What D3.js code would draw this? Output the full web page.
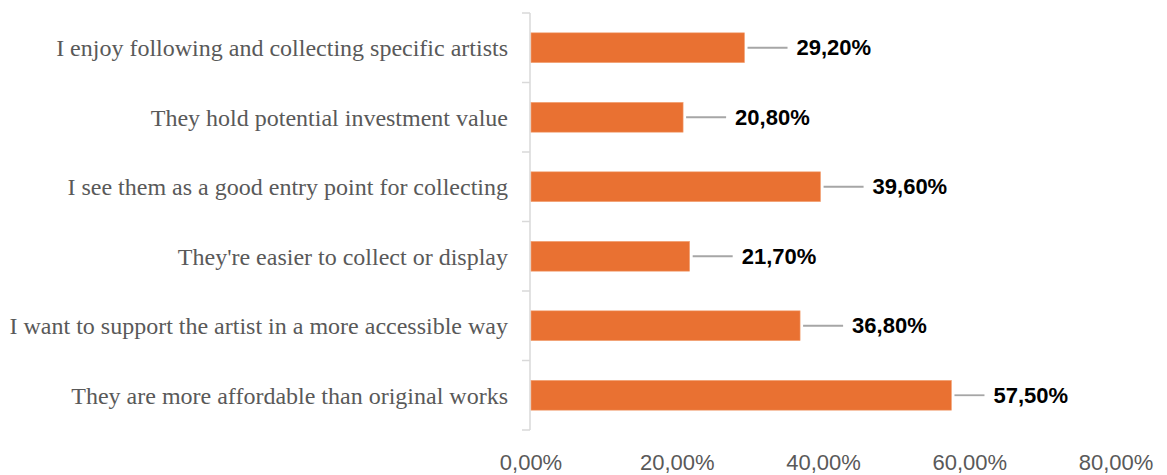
<!DOCTYPE html>
<html>
<head>
<meta charset="utf-8">
<script src="https://cdn.jsdelivr.net/npm/d3@7"></script>
<style>
  html, body { margin: 0; padding: 0; background: #ffffff; }
  svg { display: block; }
</style>
</head>
<body>
<svg id="chart" width="1167" height="475"></svg>
<script>
// Reasons for buying prints, share of respondents (%)
const categories = [
  "I enjoy following and collecting specific artists",
  "They hold potential investment value",
  "I see them as a good entry point for collecting",
  "They're easier to collect or display",
  "I want to support the artist in a more accessible way",
  "They are more affordable than original works"
];
const values = [29.2, 20.8, 39.6, 21.7, 36.8, 57.5];
const tickValues = [0, 20, 40, 60, 80];

const fmt = v => v.toFixed(2).replace(".", ",") + "%";

const svg = d3.select("#chart");
const W = 1167;
const plotLeft = 531, plotRight = 1116, plotTop = 13, plotBottom = 430;

const x = d3.scaleLinear().domain([0, 80]).range([plotLeft, plotRight]);
const y = d3.scaleBand().domain(categories).range([plotTop, plotBottom]).paddingInner(0.57).paddingOuter(0.285);
const band = d3.scaleBand().domain(categories).range([plotTop, plotBottom]);

// Category axis line with boundary ticks
const axisColor = "#d9d9d9";
svg.append("line")
  .attr("x1", plotLeft - 1).attr("x2", plotLeft - 1)
  .attr("y1", plotTop).attr("y2", plotBottom)
  .attr("stroke", axisColor).attr("stroke-width", 1.5);
const bounds = categories.map(c => band(c)).concat([plotBottom]);
svg.selectAll("line.cat-tick").data(bounds).enter().append("line")
  .attr("class", "cat-tick")
  .attr("x1", plotLeft - 9).attr("x2", plotLeft - 1)
  .attr("y1", d => d).attr("y2", d => d)
  .attr("stroke", axisColor).attr("stroke-width", 1.5);

// Category labels
svg.selectAll("text.cat").data(categories).enter().append("text")
  .attr("class", "cat")
  .attr("x", 508)
  .attr("y", d => band(d) + band.bandwidth() / 2)
  .attr("dy", "0.35em")
  .attr("text-anchor", "end")
  .attr("font-family", "'Liberation Serif', 'Times New Roman', serif")
  .attr("font-size", 24)
  .attr("fill", "#595959")
  .text(d => d);

// Bars
svg.selectAll("rect.bar").data(categories).enter().append("rect")
  .attr("class", "bar")
  .attr("x", x(0))
  .attr("y", d => y(d))
  .attr("width", (d, i) => x(values[i]) - x(0))
  .attr("height", y.bandwidth())
  .attr("fill", "#e97132")
  .attr("stroke", "#f3a77c")
  .attr("stroke-width", 0.6);

// Value labels, placed after a leader line; the leader shortens when the label would run near the edge
const labels = svg.selectAll("text.val").data(categories).enter().append("text")
  .attr("class", "val")
  .attr("y", d => y(d) + y.bandwidth() / 2)
  .attr("dy", "0.35em")
  .attr("font-family", "'Liberation Sans', Arial, sans-serif")
  .attr("font-weight", "bold")
  .attr("font-size", 22)
  .attr("fill", "#000000")
  .text((d, i) => fmt(values[i]));

const leaderLen = [];
labels.each(function (d, i) {
  const w = this.getComputedTextLength();
  let len = 40;
  if (x(values[i]) + 3 + len + 9 + w > W - 100) len = 30;
  leaderLen[i] = len;
  d3.select(this).attr("x", x(values[i]) + 3 + len + 9);
});

svg.selectAll("line.leader").data(categories).enter().append("line")
  .attr("class", "leader")
  .attr("x1", (d, i) => x(values[i]) + 3)
  .attr("x2", (d, i) => x(values[i]) + 3 + leaderLen[i])
  .attr("y1", d => y(d) + y.bandwidth() / 2)
  .attr("y2", d => y(d) + y.bandwidth() / 2)
  .attr("stroke", "#a6a6a6").attr("stroke-width", 1.8);

// Value axis labels
svg.selectAll("text.tick").data(tickValues).enter().append("text")
  .attr("class", "tick")
  .attr("x", d => x(d))
  .attr("y", 470)
  .attr("text-anchor", "middle")
  .attr("font-family", "'Liberation Sans', Arial, sans-serif")
  .attr("font-size", 22)
  .attr("fill", "#595959")
  .text(d => fmt(d));
</script>
</body>
</html>
